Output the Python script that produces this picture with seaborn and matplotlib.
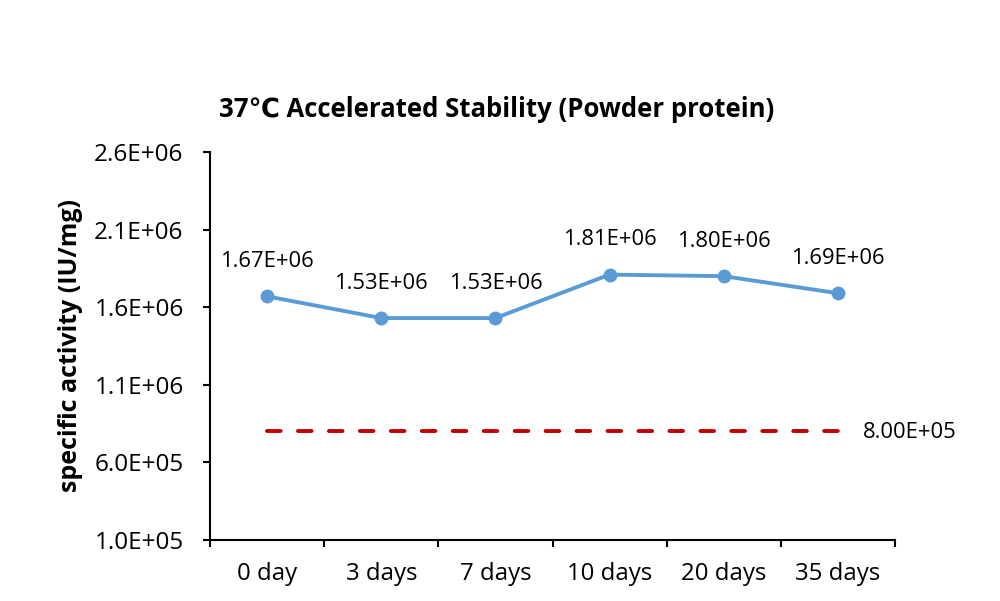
import numpy as np
import pandas as pd
import matplotlib
matplotlib.use('Agg')
import matplotlib.pyplot as plt
import seaborn as sns
from matplotlib.ticker import FuncFormatter, FixedLocator

# dados
days = ['0 day', '3 days', '7 days', '10 days', '20 days', '35 days']
activity = [1.67e6, 1.53e6, 1.53e6, 1.81e6, 1.80e6, 1.69e6]
spec_limit = 8.0e5
y_ticks = [1.0e5, 6.0e5, 1.1e6, 1.6e6, 2.1e6, 2.6e6]

sns.set_style('white')
plt.rcParams['font.family'] = ['Open Sans', 'DejaVu Sans']
plt.rcParams['text.color'] = 'black'
plt.rcParams['axes.labelcolor'] = 'black'
plt.rcParams['xtick.color'] = 'black'
plt.rcParams['ytick.color'] = 'black'

df = pd.DataFrame({'day': days, 'activity': activity, 'limit': [spec_limit] * len(days)})

fig = plt.figure(figsize=(10, 6.01), dpi=100)
ax = fig.add_axes([0.21, 0.1015, 0.685, 0.6456])

sns.lineplot(data=df, x='day', y='limit', ax=ax, color='#C00000', linewidth=2.8,
             dashes=False, sort=False)
ax.lines[-1].set_dashes([3.5, 4.46])
ax.lines[-1].set_dash_capstyle('round')
sns.lineplot(data=df, x='day', y='activity', ax=ax, color='#5B9BD5', linewidth=2.8,
             marker='o', markersize=10, markeredgewidth=0, sort=False)

# rótulos dos pontos
for i, v in enumerate(activity):
    ax.annotate(f'{v:.2E}', (i, v), xytext=(0, 25), textcoords='offset points',
                ha='center', va='center', fontsize=15.8)
ax.annotate(f'{spec_limit:.2E}', (len(days) - 1, spec_limit), xytext=(18, -1),
            textcoords='offset points', ha='left', va='center', fontsize=15.8)

ax.set_xlim(-0.5, len(days) - 0.5)
ax.set_ylim(y_ticks[0], y_ticks[-1])
ax.yaxis.set_major_locator(FixedLocator(y_ticks))
ax.yaxis.set_major_formatter(FuncFormatter(lambda v, p: f'{v:.1E}'))
ax.set_xticks(np.arange(-0.5, len(days), 1.0), minor=True)
ax.tick_params(axis='x', which='major', length=0, labelsize=17.3, pad=16)
ax.tick_params(axis='x', which='minor', length=5, width=1.5, direction='out', color='black')
ax.tick_params(axis='y', length=5, width=1.5, direction='out', color='black', labelsize=17.5, pad=14)
ax.yaxis.set_ticks_position('left')
ax.xaxis.set_ticks_position('bottom')

sns.despine(ax=ax)
for s in ['left', 'bottom']:
    ax.spines[s].set_linewidth(1.5)
    ax.spines[s].set_color('black')

ax.set_xlabel('')
ax.set_ylabel('specific activity (IU/mg)', fontsize=18, fontweight='bold', labelpad=8)
fig.text(0.497, 0.818, '37\u2103 Accelerated Stability (Powder protein)', ha='center', va='center',
         fontsize=18.5, fontweight='bold')

fig.savefig('out.png', dpi=100, facecolor='white')
